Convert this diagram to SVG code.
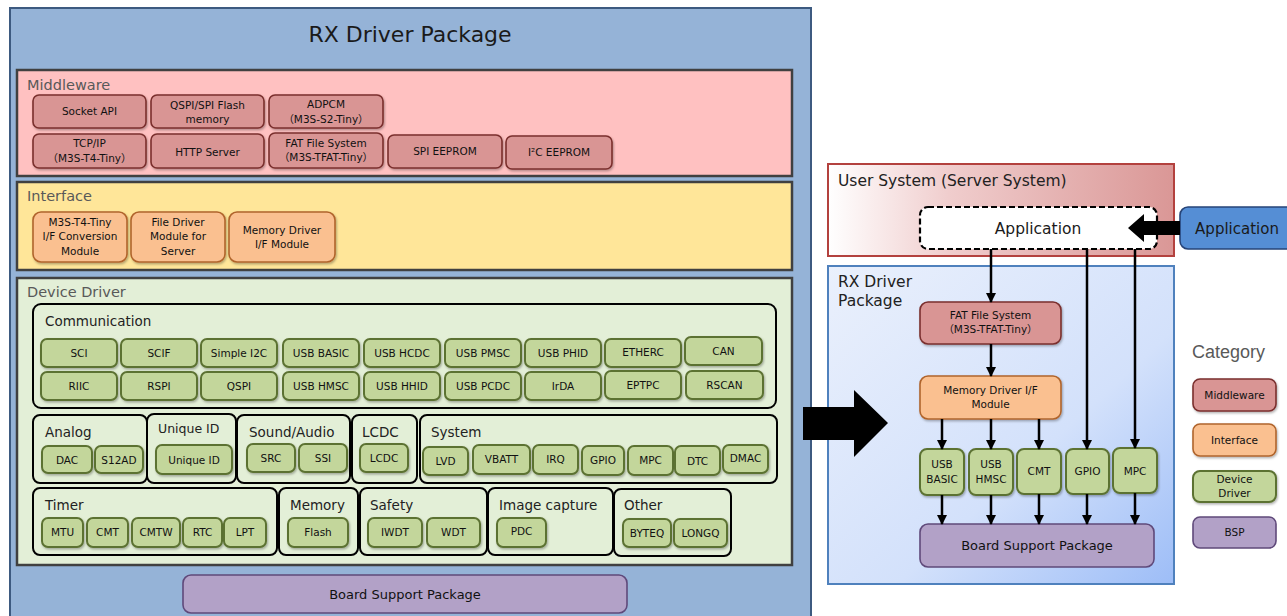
<svg xmlns="http://www.w3.org/2000/svg" width="1287" height="616" viewBox="0 0 1287 616">
<style>
text{font-family:'DejaVu Sans','Noto Sans CJK JP',sans-serif}
.n{font-size:10.5px;fill:#111;text-anchor:middle}
.b{font-size:13px;fill:#111;text-anchor:middle}
.sec{font-size:14.5px;fill:#595959}
.gl{font-size:13.5px;fill:#222}
.mw{fill:#d99594;stroke:#7a2f2d;stroke-width:1.6;filter:url(#sh)}
.if{fill:#fac090;stroke:#b0642c;stroke-width:1.6;filter:url(#sh)}
.dd{fill:#c3d69b;stroke:#5c7232;stroke-width:2;filter:url(#sh)}
.bsp{fill:#b2a1c7;stroke:#5f497a;stroke-width:1.6}
.grp{fill:none;stroke:#000;stroke-width:2}
.layer{stroke:#404040;stroke-width:2.5}
.cn{stroke:#000;stroke-width:2.5;fill:none;marker-end:url(#ah)}
</style>
<defs>
<filter id="sh" x="-20%" y="-20%" width="140%" height="150%"><feDropShadow dx="1" dy="1.5" stdDeviation="1" flood-color="#000" flood-opacity="0.3"/></filter>
<marker id="ah" markerWidth="10" markerHeight="10" refX="9" refY="5" orient="auto" markerUnits="userSpaceOnUse"><path d="M0,0 L10,5 L0,10 z" fill="#000"/></marker>
<linearGradient id="gUser" x1="0" y1="0" x2="1" y2="0"><stop offset="0" stop-color="#ffffff"/><stop offset="0.35" stop-color="#f0cdcd"/><stop offset="1" stop-color="#da9796"/></linearGradient>
<linearGradient id="gRx" x1="0" y1="0" x2="1" y2="1"><stop offset="0" stop-color="#eaf0fc"/><stop offset="0.6" stop-color="#d3e1fb"/><stop offset="1" stop-color="#9dbdf7"/></linearGradient>
</defs>

<g id="rx-package">
<rect x="10" y="8" width="801" height="620" fill="#95b3d7" stroke="#3d5a80" stroke-width="2"/>
<text x="410" y="42" font-size="22" fill="#1a1a1a" text-anchor="middle">RX Driver Package</text>
</g>

<g id="middleware-layer">
<rect class="layer" x="17" y="70" width="775" height="106" fill="#ffc1c1"/>
<text class="sec" x="27" y="90">Middleware</text>
</g>
<g id="mw-socket"><rect class="mw" x="33" y="95" width="113" height="33" rx="6"/><text class="n" x="89.5" y="115">Socket API</text></g>
<g id="mw-qspi"><rect class="mw" x="151" y="95" width="113" height="33" rx="6"/><text class="n" x="207.5" y="109">QSPI/SPI Flash</text><text class="n" x="207.5" y="123">memory</text></g>
<g id="mw-adpcm"><rect class="mw" x="269" y="95" width="114" height="33" rx="6"/><text class="n" x="326" y="108">ADPCM</text><text class="n" x="326" y="123">（M3S-S2-Tiny）</text></g>
<g id="mw-tcpip"><rect class="mw" x="33" y="134" width="113" height="34" rx="6"/><text class="n" x="89.5" y="147">TCP/IP</text><text class="n" x="89.5" y="162">（M3S-T4-Tiny）</text></g>
<g id="mw-http"><rect class="mw" x="151" y="134" width="113" height="34" rx="6"/><text class="n" x="207.5" y="155.5">HTTP Server</text></g>
<g id="mw-fat"><rect class="mw" x="269" y="133" width="114" height="35" rx="6"/><text class="n" x="326" y="147">FAT File System</text><text class="n" x="326" y="161">（M3S-TFAT-Tiny）</text></g>
<g id="mw-spieeprom"><rect class="mw" x="388" y="135" width="114" height="33" rx="6"/><text class="n" x="445" y="155">SPI EEPROM</text></g>
<g id="mw-i2ceeprom"><rect class="mw" x="506" y="136" width="106" height="33" rx="6"/><text class="n" x="559" y="156">I²C EEPROM</text></g>

<g id="interface-layer">
<rect class="layer" x="17" y="182" width="775" height="88" fill="#ffe699"/>
<text class="sec" x="27" y="201">Interface</text>
</g>
<g id="if-m3s"><rect class="if" x="33" y="212" width="94" height="50" rx="8"/><text class="n" x="80" y="225.5">M3S-T4-Tiny</text><text class="n" x="80" y="240">I/F Conversion</text><text class="n" x="80" y="254.5">Module</text></g>
<g id="if-file"><rect class="if" x="131" y="212" width="94" height="50" rx="8"/><text class="n" x="178" y="225.5">File Driver</text><text class="n" x="178" y="240">Module for</text><text class="n" x="178" y="254.5">Server</text></g>
<g id="if-mem"><rect class="if" x="229" y="212" width="106" height="50" rx="8"/><text class="n" x="282" y="233.5">Memory Driver</text><text class="n" x="282" y="248">I/F Module</text></g>

<g id="device-driver-layer">
<rect class="layer" x="17" y="278" width="775" height="287" fill="#e3efd7"/>
<text class="sec" x="27" y="297">Device Driver</text>
</g>

<g id="grp-communication">
<rect class="grp" x="33" y="304" width="743" height="104" rx="8"/>
<text class="gl" x="45" y="326">Communication</text>
</g>
<g id="dd-sci"><rect class="dd" x="41" y="339" width="76" height="28" rx="6"/><text class="n" x="79" y="357">SCI</text></g>
<g id="dd-scif"><rect class="dd" x="121" y="339" width="76" height="28" rx="6"/><text class="n" x="159" y="357">SCIF</text></g>
<g id="dd-simplei2c"><rect class="dd" x="201" y="339" width="76" height="28" rx="6"/><text class="n" x="239" y="357">Simple I2C</text></g>
<g id="dd-usbbasic"><rect class="dd" x="283" y="339" width="76" height="28" rx="6"/><text class="n" x="321" y="357">USB BASIC</text></g>
<g id="dd-usbhcdc"><rect class="dd" x="364" y="339" width="76" height="28" rx="6"/><text class="n" x="402" y="357">USB HCDC</text></g>
<g id="dd-usbpmsc"><rect class="dd" x="445" y="339" width="76" height="28" rx="6"/><text class="n" x="483" y="357">USB PMSC</text></g>
<g id="dd-usbphid"><rect class="dd" x="525" y="339" width="76" height="28" rx="6"/><text class="n" x="563" y="357">USB PHID</text></g>
<g id="dd-etherc"><rect class="dd" x="605" y="339" width="76" height="28" rx="6"/><text class="n" x="643" y="356">ETHERC</text></g>
<g id="dd-can"><rect class="dd" x="685" y="337" width="77" height="28" rx="6"/><text class="n" x="723.5" y="355">CAN</text></g>
<g id="dd-riic"><rect class="dd" x="41" y="372" width="76" height="28" rx="6"/><text class="n" x="79" y="390">RIIC</text></g>
<g id="dd-rspi"><rect class="dd" x="121" y="372" width="76" height="28" rx="6"/><text class="n" x="159" y="390">RSPI</text></g>
<g id="dd-qspi"><rect class="dd" x="201" y="372" width="76" height="28" rx="6"/><text class="n" x="239" y="390">QSPI</text></g>
<g id="dd-usbhmsc"><rect class="dd" x="283" y="372" width="76" height="28" rx="6"/><text class="n" x="321" y="390">USB HMSC</text></g>
<g id="dd-usbhhid"><rect class="dd" x="364" y="372" width="76" height="28" rx="6"/><text class="n" x="402" y="390">USB HHID</text></g>
<g id="dd-usbpcdc"><rect class="dd" x="445" y="372" width="76" height="28" rx="6"/><text class="n" x="483" y="390">USB PCDC</text></g>
<g id="dd-irda"><rect class="dd" x="525" y="372" width="76" height="28" rx="6"/><text class="n" x="563" y="390">IrDA</text></g>
<g id="dd-eptpc"><rect class="dd" x="605" y="371" width="76" height="28" rx="6"/><text class="n" x="643" y="389">EPTPC</text></g>
<g id="dd-rscan"><rect class="dd" x="686" y="371" width="77" height="28" rx="6"/><text class="n" x="724.5" y="389">RSCAN</text></g>

<g id="grp-analog"><rect class="grp" x="33" y="415" width="114" height="68" rx="7"/><text class="gl" x="45" y="437">Analog</text></g>
<g id="dd-dac"><rect class="dd" x="42" y="446" width="50" height="27" rx="6"/><text class="n" x="67" y="463.5">DAC</text></g>
<g id="dd-s12ad"><rect class="dd" x="95" y="446" width="48" height="27" rx="6"/><text class="n" x="119" y="463.5">S12AD</text></g>
<g id="grp-uniqueid"><rect class="grp" x="147" y="414" width="89" height="69" rx="7"/><text class="gl" x="158" y="433" style="font-size:12.5px">Unique ID</text></g>
<g id="dd-uniqueid"><rect class="dd" x="156" y="445" width="76" height="29" rx="6"/><text class="n" x="194" y="463.5">Unique ID</text></g>
<g id="grp-sound"><rect class="grp" x="237" y="415" width="113" height="68" rx="7"/><text class="gl" x="249" y="437">Sound/Audio</text></g>
<g id="dd-src"><rect class="dd" x="247" y="444" width="48" height="28" rx="6"/><text class="n" x="271" y="462">SRC</text></g>
<g id="dd-ssi"><rect class="dd" x="299" y="444" width="48" height="28" rx="6"/><text class="n" x="323" y="462">SSI</text></g>
<g id="grp-lcdc"><rect class="grp" x="352" y="415" width="65" height="68" rx="7"/><text class="gl" x="362" y="437">LCDC</text></g>
<g id="dd-lcdc"><rect class="dd" x="360" y="444" width="48" height="28" rx="6"/><text class="n" x="384" y="462">LCDC</text></g>
<g id="grp-system"><rect class="grp" x="420" y="415" width="357" height="68" rx="7"/><text class="gl" x="431" y="437">System</text></g>
<g id="dd-lvd"><rect class="dd" x="423" y="447" width="45" height="28" rx="6"/><text class="n" x="445.5" y="465">LVD</text></g>
<g id="dd-vbatt"><rect class="dd" x="473" y="445" width="57" height="29" rx="6"/><text class="n" x="501.5" y="463">VBATT</text></g>
<g id="dd-irq"><rect class="dd" x="533" y="445" width="45" height="29" rx="6"/><text class="n" x="555.5" y="463">IRQ</text></g>
<g id="dd-gpio"><rect class="dd" x="582" y="446" width="42" height="29" rx="6"/><text class="n" x="603" y="464">GPIO</text></g>
<g id="dd-mpc"><rect class="dd" x="628" y="446" width="45" height="29" rx="6"/><text class="n" x="650.5" y="464">MPC</text></g>
<g id="dd-dtc"><rect class="dd" x="675" y="446" width="45" height="29" rx="6"/><text class="n" x="697.5" y="465">DTC</text></g>
<g id="dd-dmac"><rect class="dd" x="723" y="445" width="45" height="28" rx="6"/><text class="n" x="745.5" y="462">DMAC</text></g>

<g id="grp-timer"><rect class="grp" x="33" y="488" width="244" height="67" rx="7"/><text class="gl" x="45" y="510">Timer</text></g>
<g id="dd-mtu"><rect class="dd" x="42" y="518" width="41" height="29" rx="6"/><text class="n" x="62.5" y="536">MTU</text></g>
<g id="dd-cmt"><rect class="dd" x="87" y="518" width="41" height="29" rx="6"/><text class="n" x="107.5" y="536">CMT</text></g>
<g id="dd-cmtw"><rect class="dd" x="132" y="518" width="48" height="29" rx="6"/><text class="n" x="156" y="536">CMTW</text></g>
<g id="dd-rtc"><rect class="dd" x="183" y="518" width="39" height="29" rx="6"/><text class="n" x="202.5" y="536">RTC</text></g>
<g id="dd-lpt"><rect class="dd" x="224" y="518" width="42" height="29" rx="6"/><text class="n" x="245" y="536">LPT</text></g>
<g id="grp-memory"><rect class="grp" x="279" y="488" width="79" height="67" rx="7"/><text class="gl" x="290" y="510">Memory</text></g>
<g id="dd-flash"><rect class="dd" x="288" y="518" width="60" height="29" rx="6"/><text class="n" x="318" y="536">Flash</text></g>
<g id="grp-safety"><rect class="grp" x="360" y="488" width="127" height="67" rx="7"/><text class="gl" x="370" y="510">Safety</text></g>
<g id="dd-iwdt"><rect class="dd" x="368" y="518" width="54" height="29" rx="6"/><text class="n" x="395" y="536">IWDT</text></g>
<g id="dd-wdt"><rect class="dd" x="427" y="518" width="53" height="29" rx="6"/><text class="n" x="453.5" y="536">WDT</text></g>
<g id="grp-image"><rect class="grp" x="488" y="488" width="125" height="67" rx="7"/><text class="gl" x="499" y="510">Image capture</text></g>
<g id="dd-pdc"><rect class="dd" x="497" y="518" width="49" height="29" rx="6"/><text class="n" x="521.5" y="535">PDC</text></g>
<g id="grp-other"><rect class="grp" x="614" y="489" width="117" height="67" rx="7"/><text class="gl" x="624" y="510">Other</text></g>
<g id="dd-byteq"><rect class="dd" x="623" y="519" width="48" height="28" rx="6"/><text class="n" x="647" y="537">BYTEQ</text></g>
<g id="dd-longq"><rect class="dd" x="674" y="519" width="53" height="28" rx="6"/><text class="n" x="700.5" y="537">LONGQ</text></g>

<g id="bsp-left"><rect class="bsp" x="183" y="575" width="444" height="38" rx="8"/><text class="b" x="405" y="599">Board Support Package</text></g>

<g id="user-system">
<rect x="828" y="164" width="346" height="92" fill="url(#gUser)" stroke="#b3413e" stroke-width="2"/>
<text x="838" y="186" font-size="15.5" fill="#222">User System (Server System)</text>
</g>
<g id="app-dashed"><rect x="920" y="207" width="237" height="42" rx="8" fill="#fff" stroke="#000" stroke-width="2.2" stroke-dasharray="6,3"/><text x="1038" y="234" font-size="15.5" fill="#1a1a1a" text-anchor="middle">Application</text></g>
<g id="app-blue"><rect x="1180" y="207" width="115" height="42" rx="8" fill="#558ed5" stroke="#264478" stroke-width="1.6"/><text x="1237" y="234" font-size="15" fill="#1a1a1a" text-anchor="middle">Application</text></g>

<g id="rx-package-right">
<rect x="828" y="266" width="346" height="318" fill="url(#gRx)" stroke="#4f81bd" stroke-width="2"/>
<text x="838" y="287" font-size="15.5" fill="#222">RX Driver</text>
<text x="838" y="306" font-size="15.5" fill="#222">Package</text>
</g>
<g id="r-fat"><rect class="mw" x="920" y="302" width="141" height="42" rx="8"/><text class="n" x="990.5" y="319">FAT File System</text><text class="n" x="990.5" y="333">（M3S-TFAT-Tiny）</text></g>
<g id="r-memif"><rect class="if" x="920" y="376" width="141" height="43" rx="8"/><text class="n" x="990.5" y="394">Memory Driver I/F</text><text class="n" x="990.5" y="408">Module</text></g>
<g id="r-usbbasic"><rect class="dd" x="920" y="449" width="44" height="46" rx="7"/><text class="n" x="942" y="468">USB</text><text class="n" x="942" y="483">BASIC</text></g>
<g id="r-usbhmsc"><rect class="dd" x="969" y="449" width="44" height="46" rx="7"/><text class="n" x="991" y="468">USB</text><text class="n" x="991" y="483">HMSC</text></g>
<g id="r-cmt"><rect class="dd" x="1017" y="449" width="44" height="45" rx="7"/><text class="n" x="1039" y="475">CMT</text></g>
<g id="r-gpio"><rect class="dd" x="1066" y="449" width="43" height="45" rx="7"/><text class="n" x="1087.5" y="475">GPIO</text></g>
<g id="r-mpc"><rect class="dd" x="1113" y="448" width="44" height="45" rx="7"/><text class="n" x="1135" y="475">MPC</text></g>
<g id="r-bsp"><rect class="bsp" x="920" y="524" width="234" height="43" rx="8"/><text class="b" x="1037" y="550">Board Support Package</text></g>

<g id="big-arrow"><polygon points="803,407 854,407 854,390 888,423 854,457 854,440 803,440" fill="#000"/></g>

<g id="connectors">
<polygon points="1128,228 1144,214 1144,221 1180,221 1180,235 1144,235 1144,242" fill="#000"/>
<line class="cn" x1="991" y1="249" x2="991" y2="302"/>
<line class="cn" x1="991" y1="344" x2="991" y2="376"/>
<line class="cn" x1="942" y1="419" x2="942" y2="449"/>
<line class="cn" x1="991" y1="419" x2="991" y2="449"/>
<line class="cn" x1="1039" y1="419" x2="1039" y2="449"/>
<line class="cn" x1="1087" y1="249" x2="1087" y2="449"/>
<line class="cn" x1="1135" y1="249" x2="1135" y2="448"/>
<line class="cn" x1="942" y1="495" x2="942" y2="524"/>
<line class="cn" x1="991" y1="495" x2="991" y2="524"/>
<line class="cn" x1="1039" y1="494" x2="1039" y2="524"/>
<line class="cn" x1="1087" y1="494" x2="1087" y2="524"/>
<line class="cn" x1="1135" y1="493" x2="1135" y2="524"/>
</g>

<g id="legend">
<text x="1192" y="358" font-family="'Liberation Sans',sans-serif" font-size="18" fill="#595959" style="font-family:'Liberation Sans',sans-serif">Category</text>
<rect class="mw" x="1193" y="379" width="83" height="32" rx="7"/><text class="n" x="1234.5" y="399">Middleware</text>
<rect class="if" x="1193" y="424" width="83" height="32" rx="7"/><text class="n" x="1234.5" y="444">Interface</text>
<rect class="dd" x="1193" y="471" width="83" height="31" rx="7"/><text class="n" x="1234.5" y="483">Device</text><text class="n" x="1234.5" y="497">Driver</text>
<rect class="bsp" x="1193" y="517" width="83" height="31" rx="7"/><text class="n" x="1234.5" y="536">BSP</text>
</g>
</svg>
